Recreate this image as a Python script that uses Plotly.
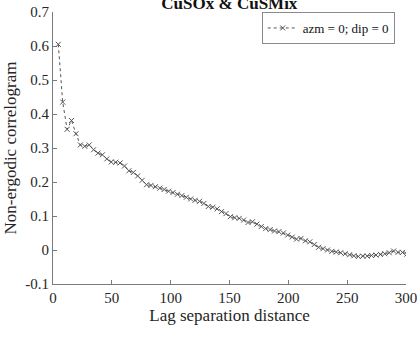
import plotly.graph_objects as go

lag = [4.5, 8.25, 12, 15.75, 19.5, 23.25, 27, 30.75, 34.5, 38.25, 42, 45.75, 49.5, 53.25, 57, 60.75,
       64.5, 68.25, 72, 75.75, 79.5, 83.25, 87, 90.75, 94.5, 98.25, 102, 105.75, 109.5, 113.25, 117,
       120.75, 124.5, 128.25, 132, 135.75, 139.5, 143.25, 147, 150.75, 154.5, 158.25, 162, 165.75,
       169.5, 173.25, 177, 180.75, 184.5, 188.25, 192, 195.75, 199.5, 203.25, 207, 210.75, 214.5,
       218.25, 222, 225.75, 229.5, 233.25, 237, 240.75, 244.5, 248.25, 252, 255.75, 259.5, 263.25,
       267, 270.75, 274.5, 278.25, 282, 285.75, 289.5, 293.25, 297, 300.75]

correlogram = [0.605, 0.435, 0.355, 0.381, 0.342, 0.309, 0.305, 0.309, 0.295, 0.285, 0.280, 0.268,
               0.259, 0.258, 0.256, 0.247, 0.233, 0.228, 0.218, 0.205, 0.192, 0.190, 0.186, 0.182,
               0.178, 0.173, 0.169, 0.164, 0.160, 0.155, 0.150, 0.146, 0.143, 0.137, 0.128, 0.126,
               0.121, 0.113, 0.107, 0.098, 0.095, 0.093, 0.088, 0.081, 0.083, 0.076, 0.069, 0.063,
               0.060, 0.056, 0.054, 0.050, 0.044, 0.038, 0.032, 0.034, 0.027, 0.024, 0.016, 0.008,
               0.004, 0.000, -0.004, -0.006, -0.008, -0.011, -0.014, -0.017, -0.019, -0.018, -0.018,
               -0.016, -0.015, -0.013, -0.011, -0.008, -0.003, -0.007, -0.007, -0.012]

x_ticks = [0, 50, 100, 150, 200, 250, 300]
y_ticks = [-0.1, 0, 0.1, 0.2, 0.3, 0.4, 0.5, 0.6, 0.7]
y_tick_labels = ["-0.1", "0", "0.1", "0.2", "0.3", "0.4", "0.5", "0.6", "0.7"]

FONT = "Liberation Serif, Times New Roman, serif"
AXIS_COLOR = "#7a7a7a"
TEXT_COLOR = "#262626"

fig = go.Figure()
fig.add_trace(go.Scatter(
    x=lag, y=correlogram, mode="lines+markers", name="azm = 0; dip = 0",
    line=dict(color="#555555", width=1, dash="dot"),
    marker=dict(symbol="x-thin-open", size=5, line=dict(color="#444444", width=1)),
))

fig.update_layout(
    width=417, height=339,
    margin=dict(l=53, r=11, t=12, b=55),
    paper_bgcolor="white", plot_bgcolor="white",
    font=dict(family=FONT, color=TEXT_COLOR, size=14),
    title=dict(text="<b>CuSOx & CuSMix</b>", x=0.55, xanchor="center", y=0.99, yanchor="middle",
               font=dict(family=FONT, size=17, color="#111111")),
    showlegend=True,
    legend=dict(x=0.968, y=1.0, xanchor="right", yanchor="top", bgcolor="white",
                bordercolor="#8a8a8a", borderwidth=1, font=dict(family=FONT, size=13, color="#111111"),
                itemwidth=30, tracegroupgap=0),
)
fig.update_xaxes(
    range=[0, 300], tickvals=x_ticks, ticks="inside", ticklen=4, tickcolor=AXIS_COLOR,
    showline=True, linecolor=AXIS_COLOR, linewidth=1, showgrid=False, zeroline=False,
    automargin=False, ticklabeloverflow="allow",
    title=dict(text="Lag separation distance", font=dict(family=FONT, size=17), standoff=4),
    tickfont=dict(family=FONT, size=15),
)
fig.update_yaxes(
    range=[-0.1, 0.7], tickvals=y_ticks, ticktext=y_tick_labels, ticks="inside", ticklen=4,
    tickcolor=AXIS_COLOR, showline=True, linecolor=AXIS_COLOR, linewidth=1, showgrid=False,
    zeroline=False, automargin=False, ticklabeloverflow="allow",
    title=dict(text="Non-ergodic correlogram", font=dict(family=FONT, size=17), standoff=4),
    tickfont=dict(family=FONT, size=15),
)

fig.write_html("out.html")
